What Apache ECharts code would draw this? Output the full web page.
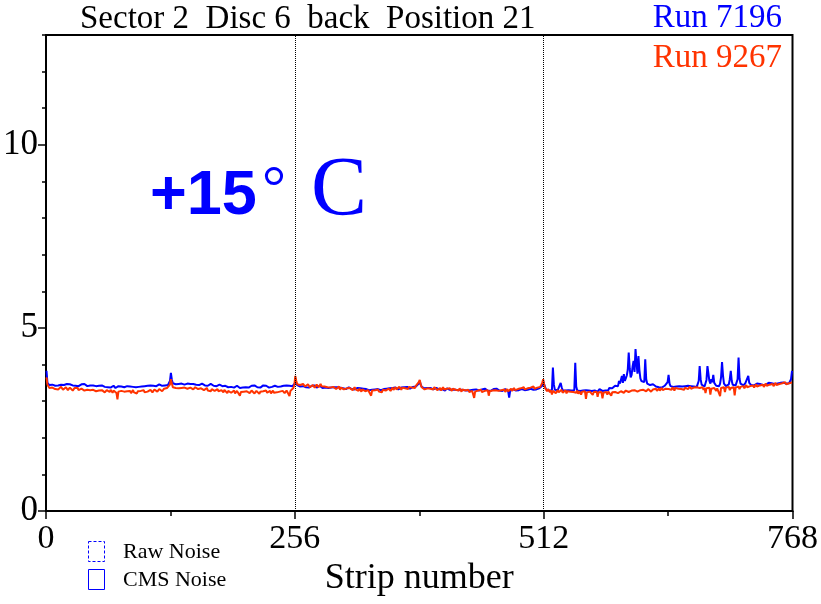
<!DOCTYPE html>
<html>
<head>
<meta charset="utf-8">
<script src="https://cdn.jsdelivr.net/npm/echarts@6/dist/echarts.min.js"></script>
<style>html,body{margin:0;padding:0;background:#fff}#c{width:821px;height:604px}</style>
</head>
<body>
<div id="c"></div>
<script>
// ---- data ----
const titleText = 'Sector 2  Disc 6  back  Position 21';
const runNames = ['Run 7196', 'Run 9267'];
const xTickLabels = [0, 256, 512, 768];
const yTickLabels = [0, 5, 10];

const run7196 = [
3.83,3.50,3.47,3.44,3.46,3.43,3.45,3.48,3.44,3.42,3.46,3.45,3.43,3.47,3.44,3.45,
3.42,3.46,3.44,3.41,3.45,3.47,3.43,3.44,3.46,3.42,3.45,3.43,3.48,3.44,3.42,3.46,
3.44,3.41,3.45,3.43,3.46,3.42,3.44,3.47,3.43,3.45,3.41,3.44,3.46,3.43,3.42,3.45,
3.43,3.46,3.44,3.41,3.43,3.45,3.42,3.44,3.40,3.43,3.41,3.44,3.39,3.42,3.40,3.38,
3.41,3.39,3.37,3.40,3.38,3.42,3.39,3.36,3.40,3.38,3.41,3.37,3.39,3.40,3.36,3.39,
3.38,3.40,3.37,3.41,3.39,3.36,3.40,3.38,3.35,3.39,3.41,3.37,3.38,3.40,3.36,3.39,
3.41,3.38,3.40,3.42,3.39,3.41,3.43,3.40,3.42,3.44,3.41,3.43,3.40,3.44,3.42,3.45,
3.43,3.41,3.44,3.42,3.46,3.43,3.45,3.42,3.44,3.46,3.43,3.45,3.47,3.44,3.48,3.55,
3.77,3.58,3.49,3.47,3.50,3.46,3.48,3.51,3.47,3.49,3.46,3.48,3.50,3.47,3.45,3.49,
3.46,3.48,3.50,3.45,3.47,3.49,3.44,3.47,3.46,3.50,3.45,3.48,3.46,3.44,3.47,3.45,
3.48,3.44,3.46,3.43,3.47,3.45,3.42,3.46,3.44,3.47,3.43,3.45,3.42,3.44,3.46,3.41,
3.44,3.42,3.45,3.40,3.43,3.41,3.44,3.39,3.42,3.40,3.43,3.38,3.41,3.43,3.39,3.42,
3.40,3.37,3.41,3.39,3.42,3.38,3.40,3.36,3.41,3.39,3.37,3.40,3.42,3.38,3.41,3.39,
3.37,3.41,3.39,3.42,3.38,3.40,3.43,3.39,3.41,3.38,3.42,3.40,3.37,3.41,3.39,3.43,
3.40,3.38,3.42,3.39,3.41,3.37,3.40,3.42,3.39,3.41,3.38,3.42,3.40,3.43,3.39,3.41,
3.43,3.40,3.44,3.41,3.42,3.45,3.41,3.43,3.40,3.44,3.42,3.45,3.43,3.41,3.46,3.44,
3.50,3.47,3.44,3.41,3.43,3.40,3.42,3.39,3.41,3.43,3.40,3.38,3.42,3.40,3.37,3.41,
3.39,3.42,3.38,3.40,3.43,3.39,3.37,3.41,3.39,3.42,3.38,3.40,3.36,3.39,3.41,3.37,
3.40,3.38,3.36,3.39,3.41,3.37,3.39,3.36,3.38,3.40,3.35,3.38,3.36,3.39,3.37,3.34,
3.37,3.35,3.38,3.36,3.33,3.37,3.35,3.38,3.34,3.36,3.33,3.35,3.37,3.32,3.35,3.33,
3.36,3.34,3.31,3.35,3.33,3.30,3.34,3.32,3.29,3.33,3.31,3.34,3.30,3.32,3.29,3.31,
3.33,3.30,3.32,3.28,3.31,3.33,3.29,3.32,3.30,3.27,3.31,3.33,3.29,3.31,3.34,3.30,
3.32,3.35,3.31,3.33,3.36,3.32,3.34,3.37,3.33,3.35,3.32,3.36,3.34,3.37,3.33,3.35,
3.38,3.34,3.36,3.39,3.35,3.37,3.34,3.38,3.36,3.39,3.35,3.37,3.40,3.36,3.42,3.48,
3.55,3.45,3.39,3.36,3.38,3.35,3.37,3.34,3.36,3.38,3.33,3.36,3.34,3.37,3.32,3.35,
3.33,3.36,3.31,3.34,3.32,3.35,3.30,3.33,3.31,3.34,3.29,3.32,3.35,3.30,3.33,3.31,
3.34,3.30,3.32,3.29,3.33,3.31,3.28,3.32,3.30,3.33,3.29,3.31,3.28,3.32,3.30,3.27,
3.31,3.29,3.32,3.28,3.30,3.33,3.29,3.31,3.27,3.30,3.32,3.28,3.31,3.29,3.33,3.30,
3.32,3.29,3.31,3.34,3.30,3.32,3.29,3.33,3.31,3.28,3.32,3.30,3.33,3.29,3.31,3.34,
3.30,3.32,3.29,3.33,3.31,3.28,3.32,3.30,3.33,3.29,3.31,3.27,3.10,3.28,3.31,3.29,
3.32,3.30,3.33,3.29,3.31,3.34,3.30,3.32,3.29,3.33,3.31,3.34,3.30,3.32,3.35,3.31,
3.33,3.30,3.34,3.32,3.35,3.31,3.33,3.36,3.32,3.34,3.31,3.35,3.33,3.36,3.42,3.55,
3.50,3.38,3.32,3.30,3.33,3.29,3.31,3.34,3.30,3.92,3.45,3.31,3.28,3.32,3.30,3.27,
3.31,3.50,3.38,3.30,3.28,3.32,3.29,3.31,3.27,3.30,3.28,3.32,3.29,3.31,3.28,3.30,
4.05,3.40,3.29,3.27,3.31,3.28,3.30,3.26,3.29,3.32,3.28,3.30,3.27,3.31,3.29,3.26,
3.30,3.28,3.31,3.27,3.29,3.32,3.28,3.26,3.30,3.33,3.29,3.31,3.28,3.30,3.33,3.29,
3.31,3.34,3.30,3.36,3.33,3.38,3.35,3.40,3.37,3.42,3.38,3.45,3.41,3.55,3.48,3.44,
3.69,3.50,3.74,3.55,3.62,3.70,3.85,4.33,3.90,3.65,3.72,3.95,4.10,3.80,4.42,4.05,
3.75,4.23,3.85,3.62,3.55,3.50,3.58,3.52,4.14,3.60,3.48,3.45,3.50,3.44,3.47,3.43,
3.46,3.42,3.44,3.40,3.43,3.41,3.38,3.42,3.40,3.37,3.41,3.39,3.42,3.40,3.45,3.52,
3.72,3.48,3.41,3.38,3.42,3.39,3.41,3.37,3.40,3.43,3.39,3.41,3.38,3.42,3.40,3.43,
3.39,3.41,3.44,3.40,3.42,3.39,3.43,3.41,3.38,3.42,3.40,3.44,3.41,3.39,3.43,3.55,
3.96,3.60,3.45,3.41,3.44,3.40,3.43,3.58,3.96,3.75,3.55,3.48,3.60,3.52,3.72,3.50,
3.45,3.42,3.46,3.43,3.41,3.48,3.65,4.07,3.70,3.48,3.44,3.41,3.45,3.42,3.46,3.60,
3.83,3.55,3.45,3.42,3.46,3.43,3.41,3.60,4.19,3.62,3.48,3.44,3.47,3.43,3.46,3.49,
3.52,3.46,3.69,3.50,3.47,3.44,3.48,3.45,3.43,3.47,3.44,3.48,3.46,3.43,3.47,3.45,
3.48,3.44,3.47,3.49,3.45,3.48,3.46,3.50,3.47,3.45,3.49,3.46,3.50,3.47,3.49,3.52,
3.48,3.51,3.47,3.50,3.48,3.46,3.51,3.49,3.52,3.48,3.50,3.53,3.49,3.51,3.60,3.83
];

const run9267 = [
3.65,3.45,3.40,3.36,3.39,3.34,3.37,3.41,3.35,3.33,3.38,3.36,3.32,3.37,3.34,3.39,
3.35,3.31,3.36,3.33,3.38,3.34,3.30,3.35,3.37,3.32,3.35,3.29,3.34,3.36,3.31,3.33,
3.36,3.30,3.33,3.28,3.34,3.31,3.35,3.29,3.32,3.27,3.31,3.34,3.28,3.30,3.33,3.26,
3.31,3.28,3.33,3.27,3.30,3.25,3.29,3.32,3.26,3.30,3.27,3.31,3.24,3.28,3.30,3.26,
3.29,3.25,3.31,3.27,3.23,3.29,3.26,3.30,3.22,3.05,3.26,3.29,3.24,3.28,3.25,3.30,
3.26,3.29,3.23,3.27,3.30,3.25,3.28,3.22,3.27,3.30,3.24,3.28,3.26,3.21,3.27,3.29,
3.25,3.28,3.23,3.27,3.30,3.24,3.28,3.19,3.26,3.29,3.25,3.31,3.27,3.24,3.29,3.32,
3.28,3.31,3.26,3.30,3.33,3.29,3.32,3.27,3.31,3.34,3.30,3.33,3.36,3.32,3.38,3.45,
3.60,3.48,3.38,3.35,3.39,3.36,3.34,3.38,3.35,3.37,3.33,3.36,3.39,3.34,3.37,3.35,
3.38,3.34,3.36,3.33,3.37,3.39,3.35,3.32,3.36,3.38,3.34,3.37,3.33,3.36,3.31,3.35,
3.37,3.33,3.30,3.35,3.32,3.36,3.29,3.34,3.31,3.27,3.33,3.30,3.35,3.28,3.32,3.29,
3.33,3.27,3.31,3.25,3.30,3.28,3.24,3.31,3.26,3.29,3.22,3.28,3.25,3.30,3.23,3.27,
3.24,3.29,3.21,3.26,3.28,3.23,3.27,3.15,3.25,3.28,3.22,3.26,3.29,3.23,3.27,3.24,
3.28,3.22,3.26,3.29,3.24,3.27,3.21,3.25,3.28,3.23,3.27,3.20,3.26,3.29,3.24,3.27,
3.22,3.26,3.29,3.23,3.27,3.24,3.28,3.21,3.25,3.29,3.23,3.26,3.28,3.24,3.27,3.22,
3.26,3.29,3.24,3.28,3.25,3.22,3.27,3.29,3.24,3.26,3.14,3.28,3.30,3.33,3.36,3.45,
3.69,3.55,3.46,3.42,3.48,3.44,3.41,3.45,3.47,3.43,3.40,3.44,3.42,3.46,3.41,3.38,
3.43,3.40,3.44,3.39,3.37,3.42,3.45,3.40,3.38,3.43,3.47,3.41,3.39,3.44,3.40,3.36,
3.42,3.38,3.35,3.40,3.37,3.42,3.34,3.39,3.36,3.41,3.33,3.38,3.35,3.40,3.31,3.37,
3.34,3.39,3.32,3.36,3.29,3.35,3.38,3.31,3.36,3.33,3.37,3.30,3.34,3.38,3.32,3.35,
3.31,3.28,3.34,3.30,3.26,3.32,3.29,3.33,3.27,3.31,3.25,3.30,3.33,3.28,3.15,3.29,
3.32,3.27,3.30,3.25,3.29,3.32,3.26,3.30,3.28,3.24,3.31,3.27,3.33,3.29,3.26,3.31,
3.34,3.30,3.28,3.33,3.37,3.31,3.35,3.38,3.32,3.36,3.33,3.39,3.35,3.31,3.37,3.34,
3.38,3.35,3.40,3.36,3.33,3.39,3.36,3.41,3.37,3.34,3.39,3.36,3.42,3.38,3.45,3.52,
3.58,3.46,3.38,3.34,3.37,3.32,3.36,3.30,3.35,3.38,3.31,3.34,3.29,3.36,3.32,3.38,
3.33,3.37,3.30,3.35,3.31,3.36,3.29,3.34,3.38,3.32,3.35,3.30,3.34,3.37,3.31,3.35,
3.32,3.28,3.34,3.30,3.36,3.31,3.27,3.33,3.29,3.35,3.30,3.26,3.32,3.28,3.34,3.29,
3.33,3.27,3.31,3.25,3.30,3.21,3.28,3.32,3.09,3.26,3.30,3.24,3.29,3.33,3.27,3.31,
3.25,3.30,3.22,3.28,3.32,3.26,3.30,3.15,3.27,3.31,3.24,3.29,3.33,3.27,3.30,3.25,
3.31,3.28,3.33,3.26,3.30,3.34,3.28,3.32,3.25,3.30,3.33,3.27,3.31,3.29,3.34,3.28,
3.32,3.36,3.30,3.34,3.29,3.33,3.37,3.31,3.35,3.30,3.34,3.38,3.32,3.36,3.31,3.35,
3.39,3.33,3.37,3.32,3.36,3.40,3.34,3.38,3.33,3.37,3.41,3.35,3.39,3.42,3.50,3.60,
3.45,3.36,3.31,3.27,3.33,3.29,3.24,3.30,3.18,3.28,3.25,3.31,3.22,3.27,3.30,3.24,
3.29,3.26,3.31,3.23,3.28,3.25,3.30,3.21,3.27,3.24,3.29,3.26,3.22,3.28,3.25,3.30,
3.26,3.23,3.29,3.20,3.27,3.24,3.18,3.26,3.29,3.22,3.27,3.06,3.24,3.28,3.21,3.26,
3.23,3.29,3.17,3.25,3.28,3.20,3.26,3.12,3.24,3.27,3.19,3.25,3.08,3.23,3.27,3.21,
3.25,3.18,3.26,3.22,3.28,3.15,3.24,3.27,3.20,3.25,3.23,3.28,3.22,3.26,3.24,3.27,
3.25,3.28,3.23,3.26,3.29,3.24,3.27,3.25,3.28,3.26,3.29,3.24,3.27,3.30,3.25,3.28,
3.26,3.29,3.27,3.30,3.25,3.28,3.31,3.26,3.29,3.27,3.30,3.33,3.28,3.31,3.26,3.29,
3.32,3.27,3.30,3.34,3.28,3.31,3.35,3.29,3.32,3.36,3.30,3.33,3.28,3.34,3.31,3.37,
3.33,3.30,3.35,3.31,3.38,3.33,3.29,3.36,3.32,3.39,3.34,3.30,3.37,3.33,3.38,3.35,
3.31,3.37,3.34,3.39,3.33,3.36,3.40,3.34,3.38,3.32,3.37,3.41,3.35,3.38,3.33,3.39,
3.36,3.40,3.34,3.38,3.31,3.37,3.22,3.35,3.39,3.33,3.37,3.18,3.34,3.38,3.32,3.36,
3.39,3.28,3.35,3.40,3.33,3.14,3.36,3.40,3.34,3.38,3.25,3.37,3.41,3.35,3.39,3.30,
3.36,3.41,3.34,3.38,3.16,3.37,3.42,3.36,3.40,3.33,3.39,3.43,3.37,3.41,3.35,3.40,
3.44,3.38,3.42,3.36,3.41,3.45,3.39,3.43,3.37,3.42,3.46,3.40,3.44,3.38,3.43,3.47,
3.41,3.45,3.39,3.44,3.48,3.42,3.46,3.40,3.45,3.49,3.43,3.47,3.41,3.46,3.50,3.44,
3.48,3.43,3.47,3.51,3.45,3.49,3.44,3.48,3.52,3.46,3.50,3.45,3.49,3.53,3.47,3.51
];

const BLUE = '#0000ff';
const RED = '#ff3300';
const SERIF = '"Liberation Serif", "Times New Roman", serif';
const SANS = '"Liberation Sans", Arial, sans-serif';

function toPairs(arr) { return arr.map((v, i) => [i + 0.5, v]); }

const chart = echarts.init(document.getElementById('c'), null, { renderer: 'canvas' });
chart.setOption({
  animation: false,
  backgroundColor: '#ffffff',
  grid: { left: 46, right: 24, top: 35, bottom: 93, show: true, borderColor: '#000', borderWidth: 2, backgroundColor: 'transparent' },
  legend: {
    orient: 'vertical', right: 39, top: 2, padding: 0, itemGap: 7,
    itemWidth: 0, itemHeight: 0, selectedMode: false,
    textStyle: { fontFamily: SERIF, fontSize: 33, padding: 0 },
    data: [
      { name: runNames[0], icon: 'none', textStyle: { color: BLUE } },
      { name: runNames[1], icon: 'none', textStyle: { color: RED } }
    ]
  },
  xAxis: {
    type: 'value', min: 0, max: 768, interval: 256,
    axisLine: { show: true, lineStyle: { color: '#000', width: 2 } },
    axisTick: { show: true, length: 8, lineStyle: { color: '#000', width: 1.5 } },
    minorTick: { show: true, splitNumber: 2, length: 5, lineStyle: { color: '#000', width: 1.5 } },
    axisLabel: { fontFamily: SERIF, fontSize: 34, color: '#000', margin: 11,
      customValues: xTickLabels },
    splitLine: { show: false },
    name: 'Strip number', nameLocation: 'middle', nameGap: 47,
    nameTextStyle: { fontFamily: SERIF, fontSize: 36, color: '#000' }
  },
  yAxis: [
    {
      type: 'value', min: 0, max: 13, interval: 1,
      axisLine: { show: true, lineStyle: { color: '#000', width: 2 } },
      axisTick: { show: true, length: 4, lineStyle: { color: '#000', width: 1.5 } },
      axisLabel: { fontFamily: SERIF, fontSize: 35, color: '#000', margin: 8,
        customValues: yTickLabels },
      splitLine: { show: false }
    },
    {
      type: 'value', min: 0, max: 13, interval: 1, position: 'left',
      axisLine: { show: false },
      axisTick: { show: true, length: 8, customValues: yTickLabels, lineStyle: { color: '#000', width: 1.5 } },
      axisLabel: { show: false },
      splitLine: { show: false }
    }
  ],
  series: [
    {
      name: runNames[0], type: 'line', data: toPairs(run7196), showSymbol: false,
      lineStyle: { color: BLUE, width: 2 }, itemStyle: { color: BLUE },
      silent: true,
      markLine: {
        silent: true, symbol: 'none', label: { show: false },
        lineStyle: { color: '#000', type: 'dotted', width: 1 },
        data: [{ xAxis: 256 }, { xAxis: 512 }]
      }
    },
    {
      name: runNames[1], type: 'line', data: toPairs(run9267), showSymbol: false,
      lineStyle: { color: RED, width: 2 }, itemStyle: { color: RED },
      silent: true
    }
  ],
  graphic: [
    { type: 'text', x: 80, y: 19, style: { text: titleText, font: '33px ' + SERIF, fill: '#000', verticalAlign: 'middle', align: 'left' } },
    { type: 'text', x: 150, y: 197, style: { text: '+15', font: 'bold 63px ' + SANS, fill: BLUE, verticalAlign: 'middle', align: 'left' } },
    { type: 'text', x: 262, y: 191, style: { text: '\u00B0', font: '60px ' + SERIF, fill: BLUE, verticalAlign: 'middle', align: 'left' } },
    { type: 'text', x: 311, y: 193, style: { text: 'C', font: '84px ' + SERIF, fill: BLUE, verticalAlign: 'middle', align: 'left' } },
    { type: 'rect', shape: { x: 88.5, y: 541.5, width: 16, height: 20 }, style: { fill: 'none', stroke: BLUE, lineWidth: 1, lineDash: [3, 2] } },
    { type: 'rect', shape: { x: 88.5, y: 569.5, width: 16, height: 20 }, style: { fill: 'none', stroke: BLUE, lineWidth: 1 } },
    { type: 'text', x: 123, y: 552, style: { text: 'Raw Noise', font: '22px ' + SERIF, fill: '#000', verticalAlign: 'middle', align: 'left' } },
    { type: 'text', x: 123, y: 580, style: { text: 'CMS Noise', font: '22px ' + SERIF, fill: '#000', verticalAlign: 'middle', align: 'left' } }
  ]
});
</script>
</body>
</html>
